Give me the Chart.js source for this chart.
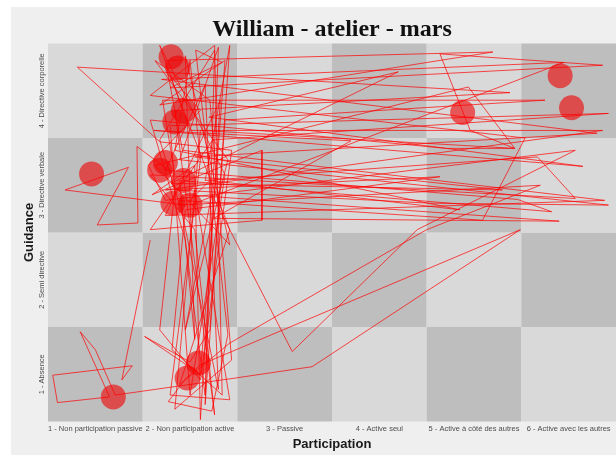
<!DOCTYPE html>
<html>
<head>
<meta charset="utf-8">
<script src="https://cdn.jsdelivr.net/npm/chart.js@4.4.0/dist/chart.umd.min.js"></script>
<style>
  html, body { margin: 0; padding: 0; background: #ffffff; }
  canvas { display: block; }
</style>
</head>
<body>
<canvas id="myChart" width="616" height="455"></canvas>
<script>
var titre = 'William - atelier - mars';

var participation = ['1 - Non participation passive', '2 - Non participation active', '3 - Passive',
                     '4 - Active seul', '5 - Active \u00e0 c\u00f4t\u00e9 des autres', '6 - Active avec les autres'];
var guidance = ['1 - Absence', '2 - Semi directive', '3 - Directive verbale', '4 - Directive corporelle'];

// trajet de la seance (participation, guidance) avec un peu de bruit
var trajetX = [1.58, 1.28, 1.39, 0.55, 0.60, 1.15, 0.84, 1.00, 1.21, 2.48, 3.29, 5.49,
  2.11, 1.96, 1.77, 2.23, 2.40, 2.06, 2.34, 1.79, 6.36, 4.64,
  4.96, 5.43, 4.71, 1.58, 1.95, 2.16, 2.30, 1.89, 6.42, 4.54,
  1.84, 1.68, 2.11, 2.44, 1.68, 0.81, 5.38, 1.84, 2.26, 2.05,
  1.58, 6.07, 5.67, 2.16, 2.42, 2.21, 2.00, 1.52, 2.11, 2.37,
  1.68, 5.20, 1.74, 1.92, 6.38, 1.74, 2.32, 2.11, 2.05, 1.60,
  2.76, 2.76, 1.58, 2.24, 6.42, 1.79, 2.00, 2.37, 1.68, 2.00,
  6.36, 1.74, 4.64, 1.95, 1.81, 2.34, 2.26, 1.58, 5.54, 5.09,
  1.89, 2.30, 2.16, 1.74, 5.46, 5.82, 1.89, 2.05, 1.95, 2.42,
  1.63, 4.94, 5.43, 2.11, 1.84, 2.44, 2.21, 1.63, 2.40, 1.95,
  2.23, 3.08, 4.40, 6.07, 1.74, 1.56, 2.11, 1.79, 2.42, 1.89,
  2.42, 4.50, 5.70, 1.89, 1.68, 2.26, 2.16, 2.37, 5.75, 1.71,
  1.84, 1.44, 1.45, 1.02, 1.35, 0.68, 1.95, 2.21, 4.85, 1.84,
  2.00, 2.11, 1.79, 2.42, 2.05, 2.00, 5.95, 1.70, 6.30, 2.05,
  5.30, 1.80, 4.20, 2.20, 6.15, 1.62, 3.70, 2.25, 5.90, 1.95];
var trajetY = [2.42, 0.94, 1.09, 0.99, 0.70, 0.76, 1.45, 1.26, 0.78, 0.96, 1.08, 2.53,
  1.10, 0.96, 0.71, 0.61, 1.42, 4.43, 4.30, 4.03, 4.27, 4.39,
  3.58, 3.39, 3.39, 3.69, 2.42, 0.78, 4.46, 3.27, 2.79, 2.81,
  2.95, 1.47, 0.94, 3.37, 3.46, 4.25, 3.98, 3.79, 0.57, 2.53,
  3.11, 2.86, 3.30, 3.05, 4.48, 1.47, 1.13, 1.40, 1.00, 4.32,
  3.85, 4.41, 4.32, 3.37, 2.84, 2.68, 3.90, 0.52, 3.21, 2.90,
  3.37, 2.63, 2.53, 3.48, 3.76, 3.63, 0.78, 3.11, 4.48, 3.58,
  3.58, 2.95, 3.09, 2.74, 1.26, 0.78, 4.48, 3.95, 3.50, 2.63,
  2.84, 0.84, 4.06, 3.16, 2.85, 2.72, 3.05, 1.37, 4.37, 2.37,
  3.21, 4.04, 3.39, 3.58, 0.63, 1.15, 3.90, 4.32, 3.27, 1.47,
  2.90, 1.24, 2.53, 3.37, 2.84, 3.21, 3.79, 4.16, 2.53, 0.89,
  1.33, 2.53, 3.00, 2.79, 3.48, 4.43, 0.68, 3.69, 3.90, 3.90,
  3.11, 3.41, 2.60, 2.58, 3.19, 2.95, 2.79, 3.05, 2.74, 3.37,
  4.32, 3.27, 0.78, 0.73, 2.95, 2.79, 4.30, 4.12, 3.55, 3.30,
  2.95, 3.02, 4.20, 3.72, 3.20, 3.58, 3.47, 2.65, 2.62, 2.90];

// moments marques (gros points)
var pointsX = [1.80, 1.87, 1.93, 1.84, 0.96, 1.74, 1.68, 1.93, 1.82, 2.00, 4.88, 5.91, 6.03, 1.19, 1.97, 2.09];
var pointsY = [4.36, 4.24, 3.79, 3.67, 3.12, 3.24, 3.16, 3.05, 2.81, 2.79, 3.77, 4.16, 3.82, 0.76, 0.96, 1.12];

function paires(xs, ys) {
    var list = [];
    xs.forEach(function(x, i) {
        list.push({ x: x, y: ys[i] });
    });
    return list;
}

// fond gris, damier, titre et libelles de guidance
var damier = {
    id: 'damier',
    beforeDraw: function(chart) {
        var ctx = chart.ctx;
        ctx.save();
        ctx.fillStyle = '#ffffff';
        ctx.fillRect(0, 0, chart.width, chart.height);
        ctx.fillStyle = '#efefef';
        ctx.fillRect(11, 7, chart.width - 11, chart.height - 7);
        ctx.restore();
    },
    beforeDatasetsDraw: function(chart) {
        var ctx = chart.ctx, sx = chart.scales.x, sy = chart.scales.y;
        ctx.save();
        for (var i = 1; i <= participation.length; i++) {
            for (var j = 1; j <= guidance.length; j++) {
                var x0 = sx.getPixelForValue(i - 0.5), x1 = sx.getPixelForValue(i + 0.5);
                var y0 = sy.getPixelForValue(j + 0.5), y1 = sy.getPixelForValue(j - 0.5);
                ctx.fillStyle = (i + j) % 2 ? '#d9d9d9' : '#bebebe';
                ctx.fillRect(x0, y0, x1 - x0, y1 - y0);
            }
        }
        ctx.restore();
    },
    afterDraw: function(chart) {
        var ctx = chart.ctx, sy = chart.scales.y, area = chart.chartArea;
        ctx.save();
        ctx.fillStyle = '#111111';
        ctx.font = 'bold 24px "Liberation Serif"';
        ctx.textAlign = 'center';
        ctx.textBaseline = 'alphabetic';
        ctx.fillText(titre, (area.left + area.right) / 2, 36);

        ctx.fillStyle = '#4d4d4d';
        ctx.font = '7.5px "Liberation Sans"';
        ctx.textBaseline = 'middle';
        guidance.forEach(function(lab, j) {
            ctx.save();
            ctx.translate(42, sy.getPixelForValue(j + 1));
            ctx.rotate(-Math.PI / 2);
            ctx.fillText(lab, 0, 0);
            ctx.restore();
        });
        ctx.restore();
    }
};

var ctx = document.getElementById('myChart').getContext('2d');
var chart = new Chart(ctx, {
    type: 'scatter',
    data: {
        datasets: [{
            label: 'trajet',
            data: paires(trajetX, trajetY),
            showLine: true,
            borderColor: 'rgba(255, 0, 0, 0.7)',
            borderWidth: 1,
            pointRadius: 0,
            tension: 0,
            order: 1
        }, {
            label: 'points',
            data: paires(pointsX, pointsY),
            backgroundColor: 'rgba(240, 0, 0, 0.6)',
            borderWidth: 0,
            pointRadius: 12.5,
            order: 2
        }]
    },
    options: {
        responsive: false,
        animation: false,
        layout: { autoPadding: false, padding: { top: 43.5, left: 0, right: 0, bottom: 0 } },
        plugins: {
            legend: { display: false },
            tooltip: { enabled: false }
        },
        scales: {
            x: {
                type: 'linear',
                min: 0.5,
                max: 6.5,
                grid: { display: false, drawTicks: false },
                border: { display: false },
                afterBuildTicks: function(s) {
                    s.ticks = participation.map(function(_, i) { return { value: i + 1 }; });
                },
                afterFit: function(s) {
                    s.height = 33.5;
                    s.paddingLeft = 0;
                    s.paddingRight = 0;
                },
                ticks: {
                    autoSkip: false,
                    minRotation: 0,
                    maxRotation: 0,
                    padding: 3,
                    color: '#4d4d4d',
                    font: { family: 'Liberation Sans', size: 7.5 },
                    callback: function(v) { return participation[v - 1]; }
                },
                title: {
                    display: true,
                    text: 'Participation',
                    color: '#1a1a1a',
                    font: { family: 'Liberation Sans', size: 13, weight: 'bold' },
                    padding: { top: 0, bottom: 3 }
                }
            },
            y: {
                type: 'linear',
                min: 0.5,
                max: 4.5,
                grid: { display: false, drawTicks: false },
                border: { display: false },
                ticks: { display: false },
                afterFit: function(s) {
                    s.width = 48;
                    s.paddingTop = 0;
                    s.paddingBottom = 0;
                },
                title: {
                    display: true,
                    text: 'Guidance',
                    color: '#1a1a1a',
                    font: { family: 'Liberation Sans', size: 13, weight: 'bold' },
                    padding: { top: 22, bottom: 0 }
                }
            }
        }
    },
    plugins: [damier]
});
</script>
</body>
</html>
